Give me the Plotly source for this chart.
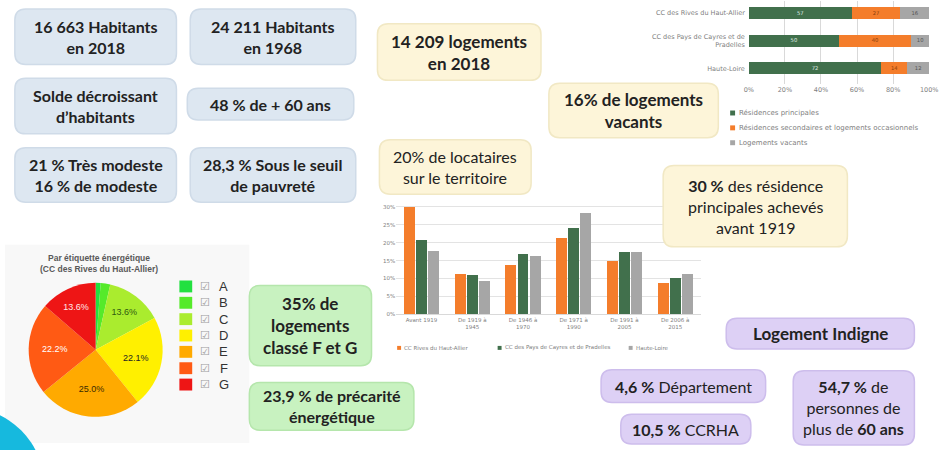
import plotly.graph_objects as go

W, H = 950, 450

# ---------------- data ----------------
occ_rows = ["CC des Rives du Haut-Allier", "CC des Pays de Cayres et de<br>Pradelles", "Haute-Loire"]
occ_series = ["Résidences principales",
              "Résidences secondaires et logements occasionnels",
              "Logements vacants"]
occ_principales = [57, 50, 72]
occ_secondaires = [27, 40, 14]
occ_vacants = [16, 10, 12]
occ_ticks = [0, 20, 40, 60, 80, 100]

age_periods = ["Avant 1919", "De 1919 à<br>1945", "De 1946 à<br>1970",
               "De 1971 à<br>1990", "De 1991 à<br>2005", "De 2006 à<br>2015"]
age_series = ["CC Rives du Haut-Allier", "CC des Pays de Cayres et de Pradelles", "Haute-Loire"]
age_rives = [30.0, 11.3, 13.7, 21.2, 15.0, 8.7]
age_cayres = [20.8, 11.0, 16.9, 24.1, 17.3, 10.1]
age_hl = [17.6, 9.3, 16.3, 28.2, 17.3, 11.3]
age_ticks = [0, 5, 10, 15, 20, 25, 30]

dpe_title = "Par étiquette énergétique<br>(CC des Rives du Haut-Allier)"
dpe_labels = ["A", "B", "C", "D", "E", "F", "G"]
dpe_values = [1.2, 2.3, 13.6, 22.1, 25.0, 22.2, 13.6]
dpe_text = ["", "", "13.6%", "22.1%", "25.0%", "22.2%", "13.6%"]

box_texts = [
    "<b>16 663 Habitants<br>en 2018</b>",
    "<b>24 211 Habitants<br>en 1968</b>",
    "<b>Solde décroissant<br>d’habitants</b>",
    "<b>48 % de + 60 ans</b>",
    "<b>21 % Très modeste<br>16 % de modeste</b>",
    "<b>28,3 % Sous le seuil<br>de pauvreté</b>",
    "<b>14 209 logements<br>en 2018</b>",
    "<b>16% de logements<br>vacants</b>",
    "20% de locataires<br>sur le territoire",
    "<b>30 %</b> des résidence<br>principales achevés<br>avant 1919",
    "<b>35% de<br>logements<br>classé F et G</b>",
    "<b>23,9 % de précarité<br>énergétique</b>",
    "<b>Logement Indigne</b>",
    "<b>4,6 %</b> Département",
    "<b>10,5 %</b> CCRHA",
    "<b>54,7 %</b> de<br>personnes de<br>plus de <b>60 ans</b>",
]

# ---------------- styles / layout ----------------
C_GREEN = "#41704c"
C_ORANGE = "#f47d2b"
C_GRAY = "#a6a6a6"
series_colors = [C_GREEN, C_ORANGE, C_GRAY]
age_colors = [C_ORANGE, C_GREEN, C_GRAY]
dpe_colors = ["#22e040", "#55ea2a", "#aaec2e", "#fff000", "#ffaa00", "#ff5a14", "#ee1515"]
dpe_textcolors = ["#000", "#000", "#2f5a10", "#222", "#3a2a00", "#ffffff", "#ffe8e8"]

BLUE = ("#dde7f1", "#cfdbe8")
YEL = ("#fdf5d9", "#f1e8c4")
GRN = ("#c8f2c0", "#b5e6ac")
PUR = ("#ddd0f5", "#cdbdec")

# (x0, y0, x1, y1, colours, fontsize) in pixels, same order as box_texts
box_geom = [
    (10, 8, 174, 64, BLUE, 16),
    (188, 8, 356, 64, BLUE, 16),
    (10, 78, 174, 134, BLUE, 16),
    (185, 88, 354, 120, BLUE, 16),
    (10, 148, 174, 203, BLUE, 16),
    (188, 148, 356, 203, BLUE, 16),
    (378, 23, 544, 80, YEL, 17),
    (552, 83, 724, 138, YEL, 17),
    (380, 140, 534, 195, YEL, 16),
    (668, 166, 855, 248, YEL, 16),
    (248, 287, 372, 368, GRN, 17),
    (248, 385, 415, 433, GRN, 16),
    (732, 320, 923, 351, PUR, 17),
    (605, 372, 772, 405, PUR, 16),
    (625, 417, 757, 447, PUR, 16),
    (800, 373, 923, 448, PUR, 16),
]

FONT_BOX = "Lato"
FONT_CHART = "DejaVu Sans"


def px(x):
    return x / W


def py(y):
    return 1 - y / H


def rbox(x0, y0, x1, y1, fill, line, r=11):
    def P(x, y):
        return f"{px(x):.5f},{py(y):.5f}"
    path = (f"M {P(x0 + r, y0)} L {P(x1 - r, y0)} Q {P(x1, y0)} {P(x1, y0 + r)} "
            f"L {P(x1, y1 - r)} Q {P(x1, y1)} {P(x1 - r, y1)} L {P(x0 + r, y1)} "
            f"Q {P(x0, y1)} {P(x0, y1 - r)} L {P(x0, y0 + r)} Q {P(x0, y0)} {P(x0 + r, y0)} Z")
    return dict(type="path", path=path, xref="paper", yref="paper",
                fillcolor=fill, line=dict(color=line, width=1.5), layer="above")


fig = go.Figure()

# ---- stacked 100% horizontal bars (top right) ----
occ_totals = [a + b + c for a, b, c in zip(occ_principales, occ_secondaires, occ_vacants)]
for name, vals, col, tcol in zip(occ_series, [occ_principales, occ_secondaires, occ_vacants],
                                 series_colors, ["#dfe9e1", "#8a3d0c", "#555555"]):
    shares = [v / t * 100 for v, t in zip(vals, occ_totals)]
    fig.add_trace(go.Bar(
        y=occ_rows, x=shares, name=name, orientation="h", marker=dict(color=col, line=dict(width=0)),
        width=0.43, text=vals, texttemplate="%{text}", textposition="inside",
        insidetextanchor="middle", offsetgroup="occ",
        textfont=dict(family=FONT_CHART, size=8, color=tcol),
        xaxis="x", yaxis="y", showlegend=False))

# ---- grouped bars (middle) ----
for i, (name, vals, col) in enumerate(zip(age_series, [age_rives, age_cayres, age_hl], age_colors)):
    fig.add_trace(go.Bar(
        x=age_periods, y=vals, name=name, marker=dict(color=col, line=dict(width=0)),
        offsetgroup=f"age{i}", xaxis="x2", yaxis="y2", showlegend=False))

# ---- pie (bottom left) ----
fig.add_trace(go.Pie(
    labels=dpe_labels, values=dpe_values, text=dpe_text, textinfo="text",
    textposition="inside", insidetextorientation="horizontal",
    textfont=dict(family="Liberation Sans", size=9, color=dpe_textcolors),
    marker=dict(colors=dpe_colors, line=dict(width=0)),
    sort=False, direction="clockwise", rotation=0,
    domain=dict(x=[px(24), px(160)], y=[py(420), py(284)]),
    showlegend=False, hoverinfo="label+percent"))

shapes = []
annotations = []

# background panel behind pie
shapes.append(dict(type="rect", xref="paper", yref="paper", x0=px(0), x1=px(248),
                   y0=py(446), y1=py(246), fillcolor="#f8f8f8", line=dict(width=0), layer="below"))

# cyan corner circle
cx, cy, r = -40, 490, 80
shapes.append(dict(type="circle", xref="paper", yref="paper",
                   x0=px(cx - r), x1=px(cx + r), y0=py(cy + r), y1=py(cy - r),
                   fillcolor="#16b9de", line=dict(width=0), layer="above"))

# boxes
for txt, (x0, y0, x1, y1, (fill, line), fs) in zip(box_texts, box_geom):
    shapes.append(rbox(x0, y0, x1, y1, fill, line))
    annotations.append(dict(x=px((x0 + x1) / 2), y=py((y0 + y1) / 2), xref="paper", yref="paper",
                            text=txt, showarrow=False, align="center",
                            xanchor="center", yanchor="middle",
                            font=dict(family=FONT_BOX, size=fs, color="#222222")))

# legend for stacked bars (manual, tight spacing)
for i, (name, col) in enumerate(zip(occ_series, series_colors)):
    yc = 113 + 15 * i
    shapes.append(dict(type="rect", xref="paper", yref="paper", x0=px(736), x1=px(741),
                       y0=py(yc + 2.5), y1=py(yc - 2.5), fillcolor=col, line=dict(width=0)))
    annotations.append(dict(x=px(743), y=py(yc), xref="paper", yref="paper", text=name,
                            showarrow=False, xanchor="left", yanchor="middle",
                            font=dict(family=FONT_CHART, size=7, color="#808080")))

# legend for grouped bars
for name, col, xs in zip(age_series, age_colors, [398, 500, 633]):
    yc = 350
    shapes.append(dict(type="rect", xref="paper", yref="paper", x0=px(xs), x1=px(xs + 4),
                       y0=py(yc + 2), y1=py(yc - 2), fillcolor=col, line=dict(width=0)))
    annotations.append(dict(x=px(xs + 5), y=py(yc), xref="paper", yref="paper", text=name,
                            showarrow=False, xanchor="left", yanchor="middle",
                            font=dict(family=FONT_CHART, size=5.5, color="#808080")))

# pie title and legend
annotations.append(dict(x=px(95), y=py(265), xref="paper", yref="paper", text=f"<b>{dpe_title}</b>",
                        showarrow=False, align="center", xanchor="center", yanchor="middle",
                        font=dict(family="Liberation Sans", size=8.5, color="#595959")))
for i, (lab, col) in enumerate(zip(dpe_labels, dpe_colors)):
    yc = 288 + 16.5 * i
    shapes.append(dict(type="rect", xref="paper", yref="paper", x0=px(177), x1=px(190),
                       y0=py(yc + 6), y1=py(yc - 6), fillcolor=col, line=dict(width=0)))
    annotations.append(dict(x=px(203), y=py(yc), xref="paper", yref="paper", text="☑",
                            showarrow=False, xanchor="center", yanchor="middle",
                            font=dict(family="DejaVu Sans", size=11, color="#9a9a9a")))
    annotations.append(dict(x=px(222), y=py(yc), xref="paper", yref="paper", text=lab,
                            showarrow=False, xanchor="center", yanchor="middle",
                            font=dict(family="Liberation Sans", size=13, color="#333333")))

fig.update_layout(
    width=W, height=H, autosize=False,
    margin=dict(l=0, r=0, t=0, b=0, pad=0),
    paper_bgcolor="#ffffff", plot_bgcolor="rgba(0,0,0,0)",
    barmode="stack",
    bargap=0.28, bargroupgap=0.1,
    showlegend=False,
    shapes=shapes, annotations=annotations,
    xaxis=dict(domain=[px(755), px(938)], range=[0, 100], tickvals=occ_ticks,
               ticktext=[f"{t}%" for t in occ_ticks], showgrid=True, gridcolor="#d9d9d9",
               gridwidth=1, zeroline=False, showline=False, ticks="",
               tickfont=dict(family=FONT_CHART, size=6.5, color="#808080"), anchor="y",
               fixedrange=True),
    yaxis=dict(domain=[py(84), 1], range=[2.57, -0.43], showgrid=False, zeroline=False,
               ticks="", showline=False,
               tickfont=dict(family=FONT_CHART, size=6.5, color="#808080"), anchor="x",
               ticklabelstandoff=3, fixedrange=True),
    xaxis2=dict(domain=[px(397), px(706)], showgrid=False, showline=True, linecolor="#d9d9d9",
                ticks="", tickfont=dict(family=FONT_CHART, size=5.5, color="#808080"),
                anchor="y2", fixedrange=True, tickangle=0),
    yaxis2=dict(domain=[py(316), py(206)], range=[0, 30.5], tickvals=age_ticks,
                ticktext=[f"{t}%" for t in age_ticks], showgrid=True, gridcolor="#e3e3e3",
                zeroline=False, showline=False, ticks="",
                tickfont=dict(family=FONT_CHART, size=5.5, color="#808080"),
                anchor="x2", fixedrange=True),
)

fig.write_html("out.html", config={"displayModeBar": False},
               post_script="document.body.style.margin='0';")
